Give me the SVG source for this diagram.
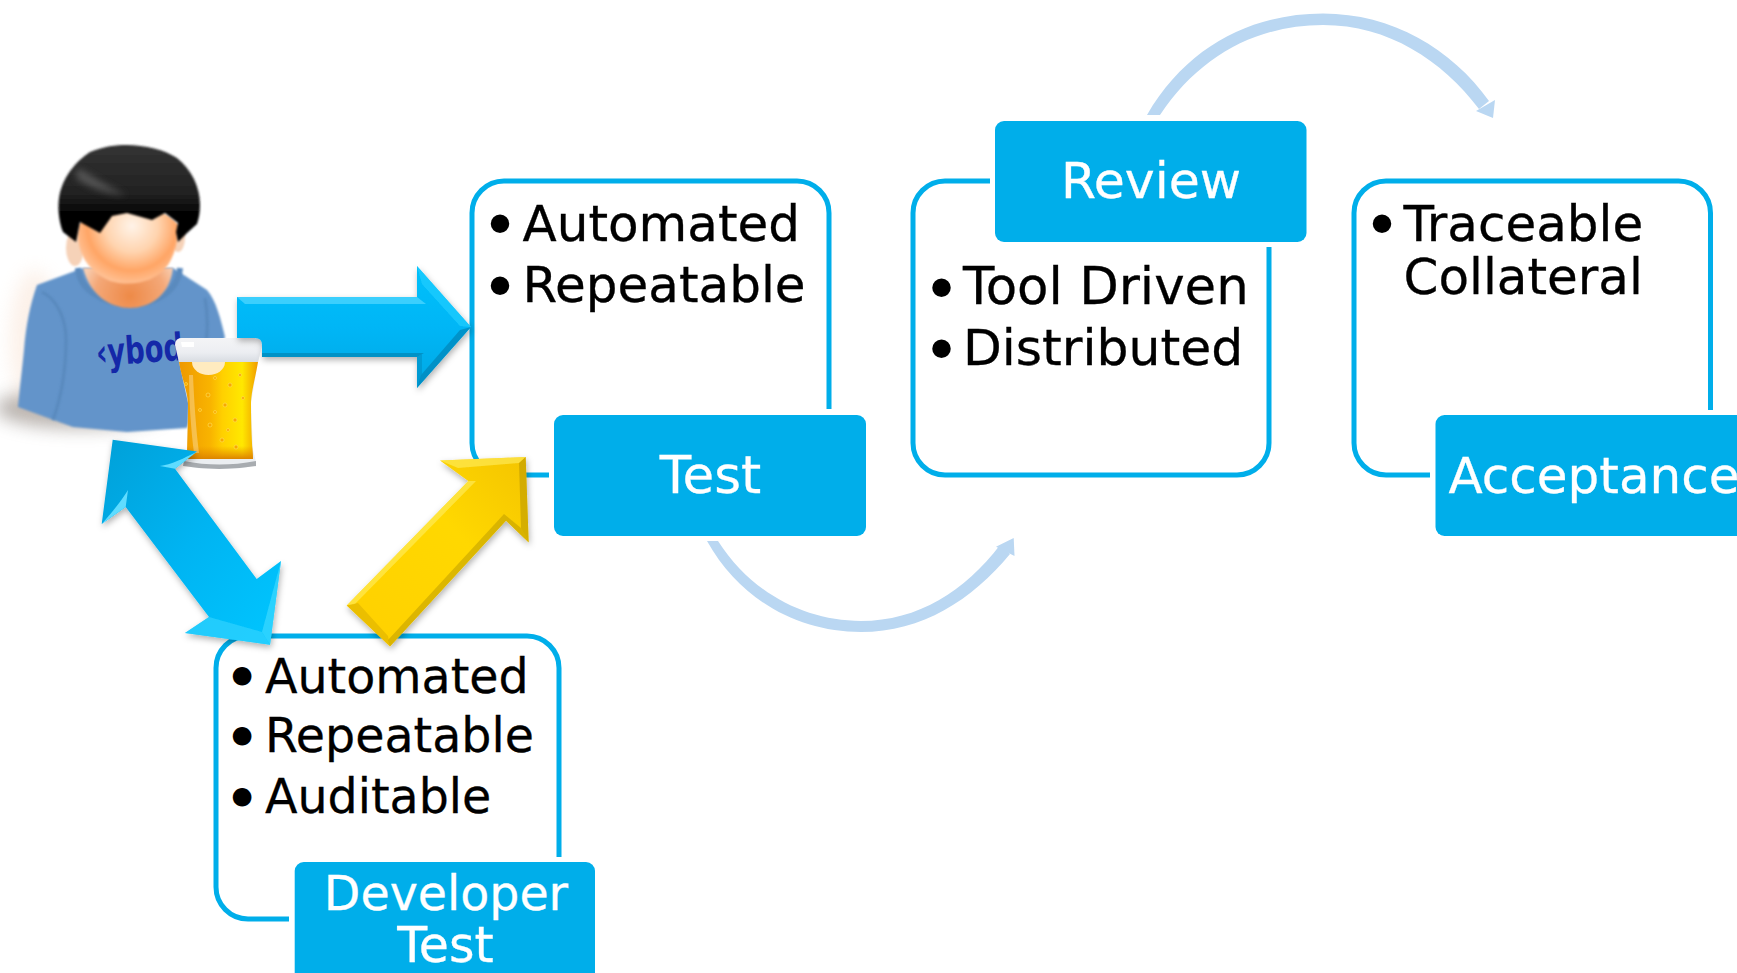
<svg xmlns="http://www.w3.org/2000/svg" width="1737" height="973" viewBox="0 0 1737 973">
<style>
.o{fill:none;stroke:#00AEEA;stroke-width:5}
.h{fill:#00AEEA}
.t{font-family:"DejaVu Sans",Verdana,sans-serif;font-size:50px;fill:#000;stroke:#000;stroke-width:.3}
.s{font-size:47.500px}
.w{fill:#fff;stroke:#fff;text-anchor:middle}
.l{fill:#fff;stroke:#fff}
.b{text-anchor:middle;stroke-width:4}
.bs{stroke-width:5;font-size:47px}
.c{fill:#BAD7F2}
</style>
<defs>
<linearGradient id="ba" x1="0" y1="0" x2="0" y2="1"><stop offset="0" stop-color="#00C0FA"/><stop offset=".5" stop-color="#00B6F6"/><stop offset="1" stop-color="#00A8E4"/></linearGradient>
<linearGradient id="bb" x1="0" y1="0" x2="1" y2="1"><stop offset="0" stop-color="#00A0D8"/><stop offset=".5" stop-color="#00B4F2"/><stop offset="1" stop-color="#00C6FF"/></linearGradient>
<linearGradient id="ya" x1="0" y1="1" x2="1" y2="0"><stop offset="0" stop-color="#FFD000"/><stop offset=".6" stop-color="#FFD800"/><stop offset="1" stop-color="#F4C400"/></linearGradient>
<linearGradient id="beer" x1="0" y1="0" x2="1" y2="0"><stop offset="0" stop-color="#EE9800"/><stop offset=".4" stop-color="#F9B400"/><stop offset=".55" stop-color="#FFD000"/><stop offset=".8" stop-color="#FFE800"/><stop offset="1" stop-color="#F09C00"/></linearGradient>
<linearGradient id="foam" x1="0" y1="0" x2="0" y2="1"><stop offset="0" stop-color="#F4F4F6"/><stop offset=".6" stop-color="#ECEEF2"/><stop offset="1" stop-color="#D8DCE2"/></linearGradient>
<linearGradient id="band" x1="0" y1="0" x2="0" y2="1"><stop offset="0" stop-color="#E88E00" stop-opacity="0"/><stop offset="1" stop-color="#DC8400"/></linearGradient>
<radialGradient id="face" gradientUnits="userSpaceOnUse" cx="132" cy="226" r="62"><stop offset="0" stop-color="#FFF3E8"/><stop offset=".42" stop-color="#FFD4AF"/><stop offset=".72" stop-color="#FFA565"/><stop offset="1" stop-color="#FFC8A0"/></radialGradient>
<radialGradient id="neck" gradientUnits="userSpaceOnUse" cx="130" cy="296" r="50"><stop offset="0" stop-color="#EE8A48"/><stop offset=".7" stop-color="#F4A878"/><stop offset="1" stop-color="#F8CDB0"/></radialGradient>
<linearGradient id="hair" x1="0" y1="0" x2="0" y2="1"><stop offset="0" stop-color="#333"/><stop offset=".5" stop-color="#222"/><stop offset=".72" stop-color="#000"/></linearGradient>
<filter id="sh" x="-20%" y="-20%" width="140%" height="140%"><feDropShadow dx="1" dy="3" stdDeviation="3" flood-color="#000" flood-opacity=".3"/></filter>
<filter id="bl" x="-30%" y="-50%" width="160%" height="200%"><feGaussianBlur stdDeviation="9"/></filter>
<filter id="sb" x="-10%" y="-10%" width="120%" height="120%"><feGaussianBlur stdDeviation="1"/></filter>
<filter id="sc" x="-30%" y="-60%" width="160%" height="220%"><feGaussianBlur stdDeviation="3.500"/></filter>
</defs>
<rect width="1737" height="973" fill="#fff"/>

<g id="node-test">
<path class="o" d="M829 409V213a32 32 0 0 0-32-32H504a32 32 0 0 0-32 32V443a32 32 0 0 0 32 32H549"/>
<text class="t" x="522.500" y="241">Automated</text>
<text class="t" x="522.500" y="302">Repeatable</text>
<text class="t b" x="500" y="242">•</text>
<text class="t b" x="500" y="304">•</text>
<rect class="h" x="554" y="415" width="312" height="121" rx="9"/>
<text class="t w" x="710.500" y="493" style="font-size:51.500px">Test</text>
</g>

<g id="node-review">
<path class="o" d="M990 181H945a32 32 0 0 0-32 32V443a32 32 0 0 0 32 32H1237a32 32 0 0 0 32-32V247"/>
<text class="t" x="963" y="304" style="font-size:51.400px">Tool Driven</text>
<text class="t" x="963" y="365" style="font-size:50.400px">Distributed</text>
<text class="t b" x="941.500" y="305.500">•</text>
<text class="t b" x="941.500" y="366.500">•</text>
<rect class="h" x="995" y="121" width="311.500" height="121" rx="9"/>
<text class="t w" x="1151" y="198" style="font-size:50.500px">Review</text>
</g>

<g id="node-acceptance">
<path class="o" d="M1710.500 410V213a32 32 0 0 0-32-32H1386a32 32 0 0 0-32 32V443a32 32 0 0 0 32 32H1430"/>
<text class="t" x="1403.500" y="241">Traceable</text>
<text class="t" x="1403.500" y="294">Collateral</text>
<text class="t b" x="1382" y="242">•</text>
<rect class="h" x="1435.500" y="415" width="320" height="121" rx="9"/>
<text class="t l" x="1448.500" y="493">Acceptance</text>
</g>

<g id="node-developer-test">
<path class="o" d="M559 857V668a32 32 0 0 0-32-32H248a32 32 0 0 0-32 32V887a32 32 0 0 0 32 32H289"/>
<text class="t s" x="265" y="693">Automated</text>
<text class="t s" x="265" y="752">Repeatable</text>
<text class="t s" x="265" y="812.500">Auditable</text>
<text class="t b bs" x="242" y="694">•</text>
<text class="t b bs" x="242" y="754">•</text>
<text class="t b bs" x="242" y="815">•</text>
<rect class="h" x="294.700" y="862" width="300.300" height="125" rx="9"/>
<text class="t s w" x="446" y="910">Developer</text>
<text class="t s w" x="445.500" y="962" style="font-size:49px">Test</text>
</g>

<g id="node-developer">
<ellipse cx="80" cy="408" rx="85" ry="20" fill="#7a7068" opacity=".55" filter="url(#bl)"/>
<ellipse cx="35" cy="340" rx="25" ry="70" fill="#F8DCC8" opacity=".4" filter="url(#bl)"/>
<path d="M37 285L83 268H173L207 290C216 300 221 320 225 337L187 428L127 432L73 427L18 407C20 385 22 370 24 350C26 325 30 305 37 285Z" fill="#6394CA" filter="url(#sb)"/>
<path d="M42 292C58 300 66 320 66 340C66 370 62 395 53 420M205 298C208 315 208 335 205 345" fill="none" stroke="#5585B8" stroke-width="3" opacity=".7" filter="url(#sb)"/>
<path d="M78 268C80 312 175 320 180 268" fill="none" stroke="#5A8ABE" stroke-width="6" filter="url(#sb)"/>
<path d="M83 268C90 295 110 308 130 308C150 308 170 295 173 268Z" fill="url(#neck)" filter="url(#sb)"/>
<ellipse cx="75" cy="248" rx="9" ry="18" fill="#F6D2B8" filter="url(#sb)"/>
<ellipse cx="178" cy="238" rx="7" ry="14" fill="#F6D2B8" filter="url(#sb)"/>
<path d="M78 225C76 250 85 270 110 281C130 287 155 283 168 265C176 252 178 240 178 225C160 200 100 200 78 225Z" fill="url(#face)" filter="url(#sb)"/>
<path d="M63 232C58 220 58 205 59 198C62 178 75 162 90 152C105 146 115 145 127 145C145 145 165 150 177 158C192 170 200 187 200 205C200 212 199 218 197 224L187 233L178 242L176 232L178 223L165 213L152 220L127 213L112 216L100 233L80 222L76 242Z" fill="url(#hair)" filter="url(#sb)"/>
<path d="M78 168C95 178 110 188 126 195C105 194 88 186 76 178Z" fill="#666" opacity=".75" filter="url(#sc)"/>
<text transform="translate(97 366) rotate(-4) scale(.72 1)" font-family="'DejaVu Sans',sans-serif" font-weight="700" font-size="38" fill="#1428A8">‹ybod</text>
</g>

<g id="node-beer">
<path d="M176 345Q176 338 182 338H256Q262 338 262 345L258 362L251 403L253 450L256 462Q256 469 219 469Q182 469 183 462L187 450L188 403L179 362Z" fill="#E9ECEF" opacity=".9"/>
<path d="M175 345Q175 338 182 338H255Q262 338 262 345L258 362H179Z" fill="url(#foam)"/>
<path d="M179 362H258C255 380 251 392 251 405C251 425 252 445 253 459H187C187 445 188 425 188 405C188 392 182 380 179 362Z" fill="url(#beer)"/>
<path d="M187 446H253V459H187Z" fill="url(#band)"/>
<path d="M184 461Q219 468 256 461L256 466Q219 472 183 466Z" fill="#A8ACB0"/>
<path d="M192 362A16.500 13 0 0 0 225 362Z" fill="#FFEBC0"/>
<path d="M193 375C194 400 196 430 199 453L194 453C191 430 189 400 189 375Z" fill="#fff" opacity=".3"/>
<path d="M181 342H194V347H182Z" fill="#fff"/>
<g fill="#F8A800" stroke="#FFE25A" stroke-width=".6">
<circle cx="208" cy="395" r="2"/><circle cx="230" cy="385" r="2"/><circle cx="240" cy="375" r="1.500"/><circle cx="225" cy="405" r="2"/><circle cx="210" cy="425" r="2"/><circle cx="235" cy="420" r="2"/><circle cx="222" cy="440" r="2"/><circle cx="243" cy="398" r="1.500"/><circle cx="236" cy="447" r="2"/><circle cx="215" cy="378" r="1.500"/><circle cx="186" cy="384" r="1.500"/><circle cx="200" cy="410" r="1.500"/><circle cx="215" cy="412" r="1.500"/><circle cx="228" cy="430" r="1.500"/>
</g>
</g>

<g id="connectors">
<g filter="url(#sh)">
<path d="M237 297H417V266L471 327L417 388V357H262L262 345Q262 338 255 338H237Z" fill="url(#ba)"/>
<path d="M237 297H417L426 304H245Z" fill="#4FD6FF" opacity=".75"/>
<path d="M417 266L471 327L460 326L422 284Z" fill="#24CDFF" opacity=".7"/>
<path d="M471 327L417 388L421 375L460 330Z" fill="#0085B8" opacity=".7"/>
<path d="M262 353H424L417 357H262Z" fill="#0088B8" opacity=".75"/>
<path d="M417 357L417 388L422 374V354Z" fill="#0090C4" opacity=".6"/>
</g>
<g filter="url(#sh)">
<path d="M112.700 439.700L197 451.500L175 468.800L256.700 579L281 561L270 644.700L185 633L209 617L125.700 507L101.700 524Z" fill="url(#bb)"/>
<path d="M197 451.500L175 468.800L160 466C170 465 185 458 197 451.500ZM101.700 524L125.700 507L128 490C122 500 110 515 101.700 524Z" fill="#5FDCFF"/>
<path d="M281 561L270 644.700L262 632Z" fill="#3FD8FF" opacity=".7"/>
<path d="M185 633L209 617L262 632L270 644.700Z" fill="#38D6FF" opacity=".6"/>
</g>
<g filter="url(#sh)">
<path d="M525.700 457L440 460.500L468.300 481L346.700 605.500L390 646.400L506 520.700L528.700 542.500Z" fill="url(#ya)"/>
<path d="M440 460.500L525.700 457L519 463L458 468ZM468.300 481L476 481L355 604L346.700 605.500Z" fill="#FFEE60" opacity=".6"/>
<path d="M525.700 457L528.700 542.500L521 528L519 463Z" fill="#A88A00" opacity=".45"/>
<path d="M528.700 542.500L506 520.700L390 646.400L388 640L504 514L521 528Z" fill="#A88A00" opacity=".4"/>
<path d="M346.700 605.500L390 646.400L388 636L358 603Z" fill="#D8AC00" opacity=".5"/>
</g>
<g class="c">
<path d="M1147 115C1188 44 1255 13.500 1323 13.500C1392 13.500 1452 49 1489 101L1479 109C1442 60 1388 25 1323 25C1258 25 1200 55 1160 115Z"/>
<path d="M1493 118L1476 111L1495 100Z"/>
<path d="M707 541C740 600 798 632 861 632C922 632 972 600 1010 554L1000 545C965 591 918 621 861 621C806 621 752 594 718 541Z"/>
<path d="M1013.700 538L996 546.700L1014.500 556Z"/>
</g>
</g>
</svg>
